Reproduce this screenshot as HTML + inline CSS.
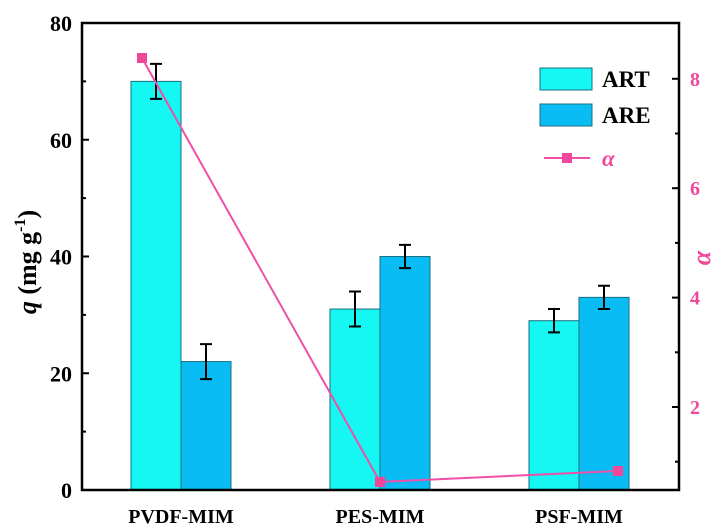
<!DOCTYPE html>
<html><head><meta charset="utf-8"><style>
html,body{margin:0;padding:0;background:#fff;width:727px;height:532px;overflow:hidden}
svg text{font-family:"Liberation Serif",serif;font-weight:bold}
</style></head><body>
<svg id="chart" width="727" height="532" xmlns="http://www.w3.org/2000/svg"></svg>
<script>
const categories=["PVDF-MIM","PES-MIM","PSF-MIM"];
const artValues=[70,31,29];
const artErrors=[3,3,2];
const areValues=[22,40,33];
const areErrors=[3,2,2];
const alphaValues=[8.38,0.63,0.83];
const leftTicks=[0,20,40,60,80];
const rightTicks=[2,4,6,8];

const NS="http://www.w3.org/2000/svg";
const svg=document.getElementById('chart');
const X0=82,X1=679,Y0=490,Y1=23;
const yL=v=>Y0-(v/80)*(Y0-Y1);
const yR=v=>407-(v-2)*54.7;
const cx=i=>181+i*199;
const markerOff=[-39,0,39];
const BW=50;
function el(t,a,txt){const e=document.createElementNS(NS,t);for(const k in a)e.setAttribute(k,a[k]);if(txt!==undefined)e.textContent=txt;svg.appendChild(e);return e;}

categories.forEach((c,i)=>{
  let r=el('rect',{x:cx(i)-BW,y:yL(artValues[i]),width:BW,height:Y0-yL(artValues[i]),fill:'#14f7f3',stroke:'#1a6f80','stroke-width':1});
  
  
  r=el('rect',{x:cx(i),y:yL(areValues[i]),width:BW,height:Y0-yL(areValues[i]),fill:'#0abcf4',stroke:'#1a6f80','stroke-width':1});
  
  
  [[cx(i)-BW/2,artValues[i],artErrors[i]],[cx(i)+BW/2,areValues[i],areErrors[i]]].forEach(([x,v,e])=>{
    const g=el('path',{d:`M${x},${yL(v+e)}V${yL(v-e)}M${x-6},${yL(v+e)}H${x+6}M${x-6},${yL(v-e)}H${x+6}`,stroke:'#000','stroke-width':2,fill:'none'});
    
    
  });
  const t=el('text',{x:cx(i),y:523,'text-anchor':'middle','font-size':20,fill:'#000'},c);
  
  
});

const pts=alphaValues.map((v,i)=>[cx(i)+markerOff[i],yR(v)]);
const ln=el('polyline',{points:pts.map(p=>p.join(',')).join(' '),fill:'none',stroke:'#ee4fa8','stroke-width':2});


pts.forEach(p=>{
  const m=el('rect',{x:p[0]-5,y:p[1]-5,width:10,height:10,fill:'#f0479b'});
  
  
});

const ax=el('rect',{x:X0,y:Y1,width:X1-X0,height:Y0-Y1,fill:'none',stroke:'#000','stroke-width':2.5});



leftTicks.forEach(v=>{
  el('line',{x1:X0,x2:X0+7,y1:yL(v),y2:yL(v),stroke:'#000','stroke-width':2});
  if(v<80)el('line',{x1:X0,x2:X0+4,y1:yL(v+10),y2:yL(v+10),stroke:'#000','stroke-width':2});
  const t=el('text',{x:X0-10,y:yL(v)+8,'text-anchor':'end','font-size':22,fill:'#000'},v);
  
  
});
rightTicks.forEach(v=>{
  el('line',{x1:X1,x2:X1-7,y1:yR(v),y2:yR(v),stroke:'#000','stroke-width':2});
  el('line',{x1:X1,x2:X1-4,y1:yR(v-1),y2:yR(v-1),stroke:'#000','stroke-width':2});
  const t=el('text',{x:X1+11,y:yR(v)+7,'font-size':20,fill:'#f0479b'},v);
  
  
});
el('line',{x1:X1,x2:X1-4,y1:yR(7),y2:yR(7),stroke:'#000','stroke-width':2});

let t=el('text',{transform:'translate(36,262) rotate(-90)','text-anchor':'middle','font-size':26,fill:'#000'});
t.innerHTML='<tspan font-style="italic">q</tspan>  (mg g<tspan dy="-11" font-size="16">-1</tspan><tspan dy="11">)</tspan>';


t=el('text',{transform:'translate(710,258) rotate(-90)','text-anchor':'middle','font-size':26,'font-style':'italic',fill:'#f0479b'},'α');



let r=el('rect',{x:540,y:68,width:52,height:22,fill:'#14f7f3',stroke:'#1a6f80'});

t=el('text',{x:602,y:87,'font-size':23,fill:'#000'},'ART');

r=el('rect',{x:540,y:104,width:52,height:22,fill:'#0abcf4',stroke:'#1a6f80'});

t=el('text',{x:602,y:123,'font-size':23,fill:'#000'},'ARE');

el('line',{x1:544,x2:590,y1:158,y2:158,stroke:'#ee4fa8','stroke-width':2});
el('rect',{x:562,y:153,width:10,height:10,fill:'#f0479b'});
t=el('text',{x:602,y:166,'font-size':23,'font-style':'italic',fill:'#f0479b'},'α');

</script>
</body></html>
